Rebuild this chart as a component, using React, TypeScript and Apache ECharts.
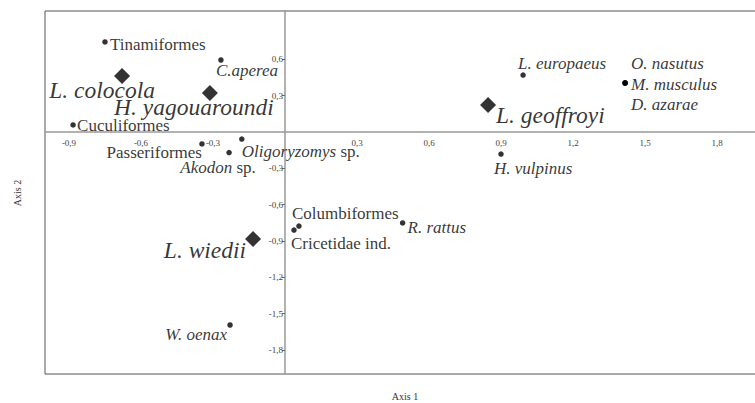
import React, { useEffect, useRef } from "react";
import * as echarts from "echarts";

// Species / taxa plotted as small dots
const dotNames = [
  "Tinamiformes", "C.aperea", "Cuculiformes", "Passeriformes", "Oligoryzomys sp.",
  "Akodon sp.", "L. europaeus", "O. nasutus", "M. musculus", "D. azarae",
  "H. vulpinus", "Columbiformes", "Cricetidae ind.", "R. rattus", "W. oenax",
];
const dotX = [-0.75, -0.267, -0.883, -0.346, -0.18, -0.233, 0.992, 1.417, 1.417, 1.417, 0.9, 0.058, 0.0375, 0.49, -0.229];
const dotY = [0.744, 0.595, 0.058, -0.099, -0.058, -0.17, 0.471, 0.405, 0.405, 0.405, -0.182, -0.777, -0.81, -0.752, -1.595];

// Predators plotted as diamonds
const catNames = ["L. colocola", "H. yagouaroundi", "L. geoffroyi", "L. wiedii"];
const catX = [-0.679, -0.313, 0.846, -0.133];
const catY = [0.463, 0.322, 0.223, -0.884];

const xTicks = [-0.9, -0.6, -0.3, 0.3, 0.6, 0.9, 1.2, 1.5, 1.8];
const yTicks = [0.6, 0.3, -0.3, -0.6, -0.9, -1.2, -1.5, -1.8];

// label rich formatting (italic species vs roman orders)
const labelText: Record<string, string> = {
  "Tinamiformes": "{r|Tinamiformes}",
  "C.aperea": "{i|C.aperea}",
  "Cuculiformes": "{r|Cuculiformes}",
  "Passeriformes": "{r|Passeriformes}",
  "Oligoryzomys sp.": "{i|Oligoryzomys}{r| sp.}",
  "Akodon sp.": "{i|Akodon}{r| sp.}",
  "L. europaeus": "{i|L. europaeus}",
  "O. nasutus": "{i|O. nasutus}",
  "M. musculus": "{i|M. musculus}",
  "D. azarae": "{i|D. azarae}",
  "H. vulpinus": "{i|H. vulpinus}",
  "Columbiformes": "{r|Columbiformes}",
  "Cricetidae ind.": "{r|Cricetidae ind.}",
  "R. rattus": "{i|R. rattus}",
  "W. oenax": "{i|W. oenax}",
};

// label placement (style, not data): [align, dx, dy]
const dotLabelPlace: Record<string, [string, number, number]> = {
  "Tinamiformes": ["left", 5, 3],
  "C.aperea": ["left", -5, 10],
  "Cuculiformes": ["left", 4, 1],
  "Passeriformes": ["right", 0, 9],
  "Oligoryzomys sp.": ["left", 0, 12],
  "Akodon sp.": ["center", -11, 15],
  "L. europaeus": ["left", -5, -12],
  "O. nasutus": ["left", 6, -19],
  "M. musculus": ["left", 6, 2],
  "D. azarae": ["left", 6, 22],
  "H. vulpinus": ["left", -7, 14],
  "Columbiformes": ["left", -7, -13],
  "Cricetidae ind.": ["left", -3, 13],
  "R. rattus": ["left", 5, 5],
  "W. oenax": ["right", -3, 10],
};
const catLabelPlace: Record<string, [string, number, number]> = {
  "L. colocola": ["right", 33, 14],
  "H. yagouaroundi": ["center", -16, 14],
  "L. geoffroyi": ["left", 8, 10],
  "L. wiedii": ["right", -7, 11],
};

const FONT = "Liberation Serif";
const fmt = (v: number) => String(Math.round(v * 10) / 10).replace(".", ",");

const GL = 45, GT = 11, GW = 720, GH = 363;
const XMIN = -1.0, XMAX = 2.0, YMIN = -2.0, YMAX = 1.0;

export default function App() {
  const ref = useRef<HTMLDivElement>(null);
  useEffect(() => {
    if (!ref.current) return;
    const chart = echarts.init(ref.current, undefined, { renderer: "svg" });
    const dotData = dotNames.map((n, i) => {
      const p = dotLabelPlace[n];
      return {
        name: n,
        value: [dotX[i], dotY[i]],
        label: {
          show: true,
          position: "inside",
          align: p[0],
          verticalAlign: "middle",
          offset: [p[1], p[2]],
          formatter: labelText[n],
          rich: {
            r: { fontFamily: FONT, fontSize: 17, color: "#000" },
            i: { fontFamily: FONT, fontSize: 17, fontStyle: "italic", color: "#000" },
          },
        },
      };
    });
    const catData = catNames.map((n, i) => {
      const p = catLabelPlace[n];
      return {
        name: n,
        value: [catX[i], catY[i]],
        label: {
          show: true,
          position: "inside",
          align: p[0],
          verticalAlign: "middle",
          offset: [p[1], p[2]],
          formatter: n,
          fontFamily: FONT,
          fontSize: 23.5,
          fontStyle: "italic",
          color: "#000",
        },
      };
    });
    // offsets that put the axes through the origin
    const zeroYFromBottom = (0 - YMIN) / (YMAX - YMIN) * GH;
    const zeroXFromLeft = (0 - XMIN) / (XMAX - XMIN) * GW;
    chart.setOption({
      animation: false,
      grid: {
        left: GL,
        top: GT,
        width: GW,
        height: GH,
        show: true,
        borderColor: "#555",
        borderWidth: 1,
        containLabel: false,
        outerBoundsMode: "none",
      },
      xAxis: {
        type: "value",
        min: XMIN,
        max: XMAX,
        position: "bottom",
        offset: -zeroYFromBottom,
        axisLine: { onZero: false, lineStyle: { color: "#999", width: 1.5 } },
        axisTick: { show: false, customValues: xTicks },
        axisLabel: {
          customValues: xTicks,
          formatter: fmt,
          fontFamily: FONT,
          fontSize: 9,
          color: "#444",
          margin: 6,
        },
        splitLine: { show: false },
      },
      yAxis: {
        type: "value",
        min: YMIN,
        max: YMAX,
        position: "left",
        offset: -zeroXFromLeft,
        axisLine: { onZero: false, lineStyle: { color: "#999", width: 1.5 } },
        axisTick: { show: true, customValues: yTicks, length: 3, lineStyle: { color: "#666" } },
        axisLabel: {
          customValues: yTicks,
          formatter: fmt,
          fontFamily: FONT,
          fontSize: 9,
          color: "#444",
          margin: 2,
        },
        splitLine: { show: false },
      },
      graphic: [
        {
          type: "text",
          x: 405,
          y: 396,
          style: { text: "Axis 1", fontFamily: FONT, fontSize: 10, fill: "#333", align: "center", verticalAlign: "middle" },
        },
        {
          type: "text",
          x: 17,
          y: 193,
          rotation: Math.PI / 2,
          style: { text: "Axis 2", fontFamily: FONT, fontSize: 10, fill: "#333", align: "center", verticalAlign: "middle" },
        },
      ],
      series: [
        {
          type: "scatter",
          symbol: "circle",
          symbolSize: 5.5,
          itemStyle: { color: "#000" },
          data: dotData,
          z: 3,
        },
        {
          type: "scatter",
          symbol: "diamond",
          symbolSize: [16, 16],
          itemStyle: { color: "#000" },
          data: catData,
          z: 4,
        },
      ],
    });
    return () => chart.dispose();
  }, []);
  return (
    <div
      ref={ref}
      style={{ position: "fixed", left: 0, top: 0, width: 755, height: 403, background: "#fff" }}
    />
  );
}
